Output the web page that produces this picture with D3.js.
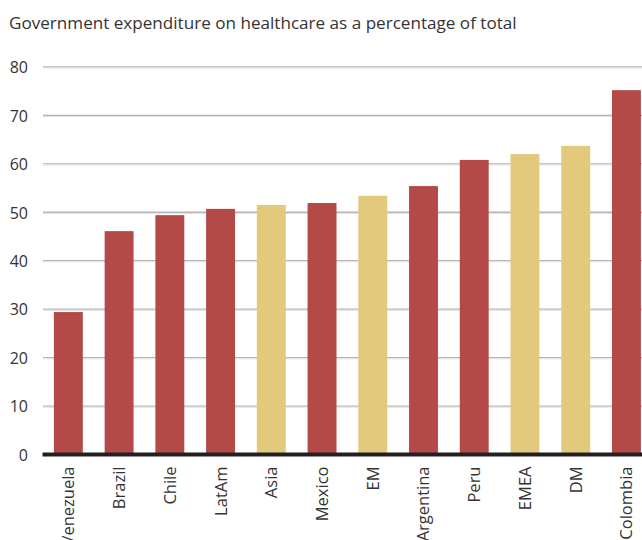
<!DOCTYPE html>
<html>
<head>
<meta charset="utf-8">
<script src="https://cdn.jsdelivr.net/npm/d3@7"></script>
<style>
  html, body { margin: 0; padding: 0; background: #fff; }
  svg { display: block; }
  text { font-family: "Open Sans", "Noto Sans", sans-serif; fill: #333; }
</style>
</head>
<body>
<svg id="chart" width="642" height="540"></svg>
<script>
// Government share of healthcare spending, by country / region
const categories = ["Venezuela", "Brazil", "Chile", "LatAm", "Asia", "Mexico", "EM",
                    "Argentina", "Peru", "EMEA", "DM", "Colombia"];
const values = [29.4, 46.1, 49.4, 50.7, 51.5, 51.9, 53.4, 55.4, 60.8, 62.0, 63.7, 75.2];
// Regional aggregates outside Latin America are highlighted in gold
const isRegion = [false, false, false, false, true, false, true, false, false, true, true, false];
const yTicks = [0, 10, 20, 30, 40, 50, 60, 70, 80];
const title = "Government expenditure on healthcare as a percentage of total";

const svg = d3.select("#chart");
const W = 642;
const plot = { left: 43, right: 651.8, top: 66.9, bottom: 454.5 };

const x = d3.scaleBand()
  .domain(categories)
  .range([plot.left, plot.right])
  .paddingInner(0.43)
  .paddingOuter(0.215);

const y = d3.scaleLinear()
  .domain([0, 80])
  .range([plot.bottom, plot.top]);

// Title
svg.append("text")
  .attr("x", 9)
  .attr("y", 29)
  .style("font-size", "17.1px")
  .text(title);

// Gridlines
const grid = svg.append("g");
grid.selectAll("line.g")
  .data(yTicks.filter(d => d > 0))
  .join("line")
  .attr("x1", plot.left).attr("x2", W)
  .attr("y1", d => y(d)).attr("y2", d => y(d))
  .attr("stroke", "#b4b4b4")
  .attr("stroke-width", 1.3);
grid.selectAll("line.s")
  .data(yTicks.filter(d => d > 0))
  .join("line")
  .attr("x1", plot.left).attr("x2", W)
  .attr("y1", d => y(d) + 1.2).attr("y2", d => y(d) + 1.2)
  .attr("stroke", "#e2e2e2")
  .attr("stroke-width", 1);

// Y axis labels
const yAxis = d3.axisLeft(y).tickValues(yTicks).tickSize(0).tickPadding(0);
svg.append("g")
  .attr("transform", `translate(28,0)`)
  .call(yAxis)
  .call(g => g.select(".domain").remove())
  .call(g => g.selectAll("text")
    .style("font-size", "16px")
    .style("font-family", "'Open Sans', sans-serif")
    .attr("fill", "#333")
    .attr("dy", "0.36em"));

// Bars
svg.append("g")
  .selectAll("rect")
  .data(categories)
  .join("rect")
  .attr("x", d => x(d))
  .attr("width", x.bandwidth())
  .attr("y", (d, i) => y(values[i]))
  .attr("height", (d, i) => y(0) - y(values[i]))
  .attr("fill", (d, i) => isRegion[i] ? "#e3c97c" : "#b34a48");

// Baseline
svg.append("line")
  .attr("x1", plot.left - 0.5).attr("x2", W)
  .attr("y1", y(0)).attr("y2", y(0))
  .attr("stroke", "#231f20")
  .attr("stroke-width", 4);

// Category labels, rotated
const xAxis = d3.axisBottom(x).tickSize(0).tickPadding(0);
svg.append("g")
  .attr("transform", `translate(0,${y(0)})`)
  .call(xAxis)
  .call(g => g.select(".domain").remove())
  .call(g => g.selectAll("text")
    .style("font-size", "16.5px")
    .style("font-family", "'Open Sans', sans-serif")
    .attr("fill", "#333")
    .attr("text-anchor", "end")
    .attr("transform", "rotate(-90)")
    .attr("x", -12)
    .attr("y", 0)
    .attr("dy", "0.36em"));
</script>
</body>
</html>
